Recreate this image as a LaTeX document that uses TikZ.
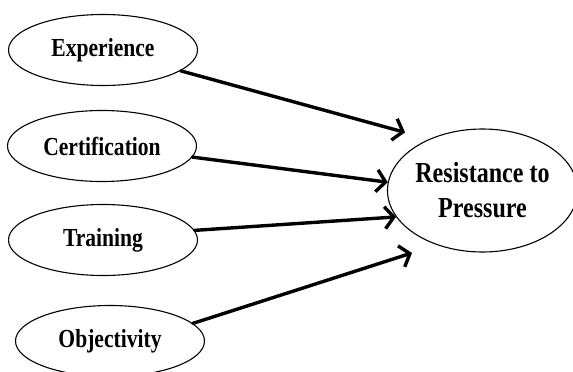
\documentclass[tikz,border=0pt]{standalone}
\usepackage{fontspec}
\setmainfont{Liberation Serif}[FakeStretch=0.83]
\usetikzlibrary{shapes.geometric,arrows.meta}

\begin{document}
\begin{tikzpicture}[line join=round, line cap=round, x=1pt, y=-1pt,
		factor/.style={draw, ellipse, line width=1.1pt, inner sep=0pt,
			minimum width=189pt, minimum height=71pt,
			font=\fontsize{26}{28}\selectfont\bfseries},
		effect/.style={draw, ellipse, line width=1.1pt, inner sep=0pt, align=center,
			minimum width=181pt, minimum height=123pt,
			font=\fontsize{29}{35}\selectfont\bfseries},
		link/.style={line width=3.4pt, -{Straight Barb[length=9pt,width=22pt,line width=3.4pt]}}]
	\useasboundingbox (0,0) rectangle (573,372);
	\clip (0,0) rectangle (573,372);
	% the four factors
	\node[factor] (exp) at (103,50) {Experience};
	\node[factor] (cert) at (102,146) {Certification};
	\node[factor] (train) at (103,240) {Training};
	\node[factor] (obj) at (110,341) {Objectivity};
	% the outcome
	\node[effect] (res) at (482.5,190.5) {Resistance to\\Pressure};
	% arrows into the outcome
	\draw[link, shorten >=25pt] (exp.-15) -- (res.136);
	\draw[link] (cert.-7) -- (res.175);
	\draw[link] (train.6) -- (res.197);
	\draw[link, shorten >=26pt] (obj.12) -- (res.230);
\end{tikzpicture}
\end{document}
